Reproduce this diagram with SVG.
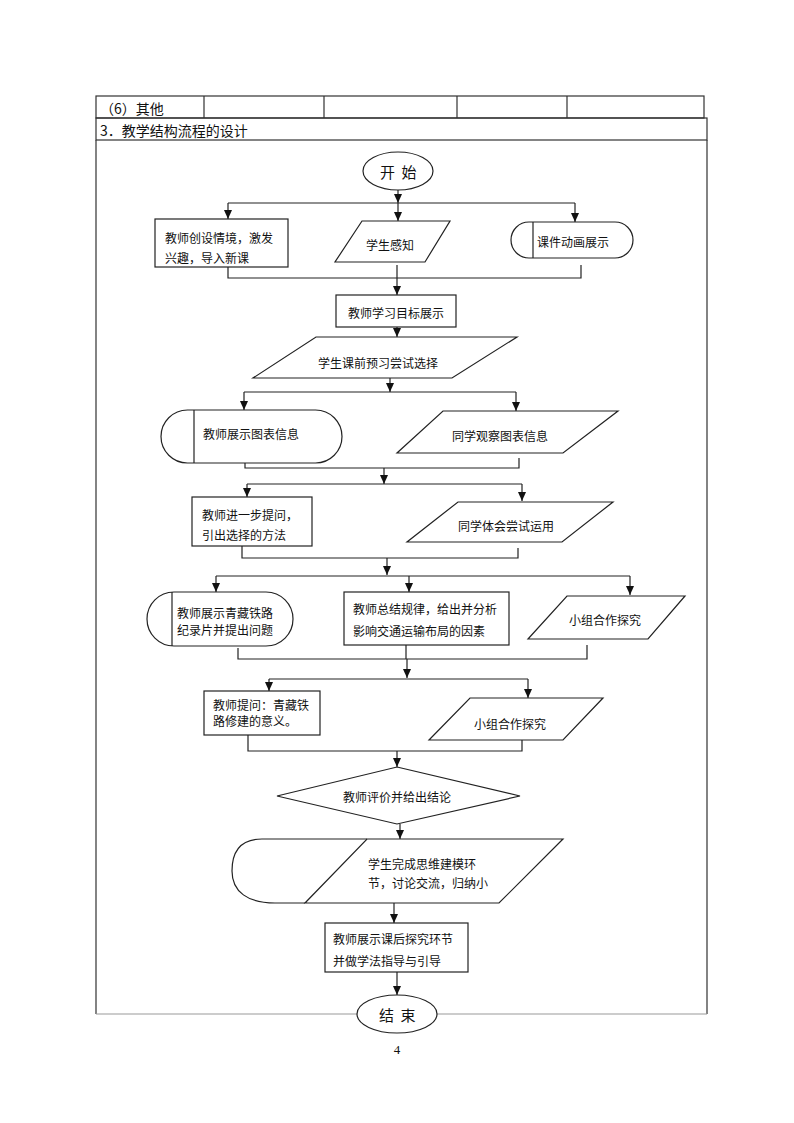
<svg xmlns="http://www.w3.org/2000/svg" width="794" height="1123" viewBox="0 0 794 1123">
<style>
.sh{fill:#fff;stroke:#222;stroke-width:1.2}
.ln{fill:none;stroke:#222;stroke-width:1.2}
.ar{fill:none;stroke:#222;stroke-width:1.2;marker-end:url(#ah)}
.tb{fill:none;stroke:#333;stroke-width:1.2}
.t{font-family:"Noto Sans CJK SC","Liberation Sans",sans-serif;font-size:12px;fill:#111;dominant-baseline:central}
.c{text-anchor:middle}
.h{font-size:14px}
.b{font-size:15px;letter-spacing:1.5px}
</style>
<defs>
<marker id="ah" markerUnits="userSpaceOnUse" markerWidth="9" markerHeight="8" refX="9" refY="4" orient="auto">
<path d="M0,0 L9,4 L0,8 z" fill="#111"/>
</marker>
</defs>
<rect width="794" height="1123" fill="#fff"/>
<g id="table">
<rect class="tb" x="96" y="96" width="608" height="22"/>
<path class="tb" d="M204,96 V118 M324,96 V118 M457,96 V118 M567,96 V118"/>
<rect class="tb" x="96" y="118" width="611" height="22"/>
<path class="tb" d="M96,140 V1014 M707,140 V1014"/>
<path d="M96,1014 H707" stroke="#999" stroke-width="1.2" fill="none"/>
<text class="t h" x="100" y="108">（6）其他</text>
<text class="t h" x="100" y="130">3．教学结构流程的设计</text>
</g>
<g id="connectors">
<path class="ar" d="M398,190 V203"/>
<path class="ln" d="M228,203 H575"/>
<path class="ar" d="M228,203 V219"/>
<path class="ar" d="M398,203 V221"/>
<path class="ar" d="M575,203 V222"/>
<path class="ln" d="M228,267 V278 H581 V265 M397,265 V278"/>
<path class="ar" d="M397,278 V295"/>
<path class="ar" d="M397,327 V337"/>
<path class="ar" d="M390,378 V392"/>
<path class="ln" d="M244,392 H516"/>
<path class="ar" d="M244,392 V410"/>
<path class="ar" d="M516,392 V411"/>
<path class="ln" d="M245,463 V468 H519 V458"/>
<path class="ar" d="M384,468 V484"/>
<path class="ln" d="M247,484 H522"/>
<path class="ar" d="M247,484 V497"/>
<path class="ar" d="M522,484 V501"/>
<path class="ln" d="M242,546 V558 H518 V548"/>
<path class="ar" d="M387,558 V575"/>
<path class="ln" d="M216,576 H630"/>
<path class="ar" d="M216,576 V592"/>
<path class="ar" d="M409,576 V592"/>
<path class="ar" d="M630,576 V595"/>
<path class="ln" d="M238,648 V659 H587 V645 M406,645 V659"/>
<path class="ar" d="M407,659 V678"/>
<path class="ln" d="M269,679 H528"/>
<path class="ar" d="M269,679 V691"/>
<path class="ar" d="M528,679 V698"/>
<path class="ln" d="M248,735 V751 H522 V740"/>
<path class="ar" d="M397,751 V767"/>
<path class="ar" d="M400,824 V839"/>
<path class="ar" d="M394,903 V923"/>
<path class="ar" d="M397,972 V995"/>
</g>
<g id="start">
<ellipse class="sh" cx="398" cy="171" rx="35" ry="19"/>
<text class="t b c" x="399" y="171">开 始</text>
</g>
<g id="n1">
<rect class="sh" x="155" y="219" width="133" height="48"/>
<text class="t" x="165" y="237">教师创设情境，激发</text>
<text class="t" x="165" y="257">兴趣，导入新课</text>
</g>
<g id="n2">
<path class="sh" d="M362,221 H450 L425,262 H335 Z"/>
<text class="t c" x="390" y="244">学生感知</text>
</g>
<g id="n3">
<rect class="sh" x="511" y="222" width="122" height="36" rx="18"/>
<path class="ln" d="M533,222 V258"/>
<text class="t" x="537" y="241">课件动画展示</text>
</g>
<g id="n4">
<rect class="sh" x="336" y="295" width="120" height="32"/>
<text class="t c" x="396" y="312">教师学习目标展示</text>
</g>
<g id="n5">
<path class="sh" d="M316,337 H517 L452,378 H253 Z"/>
<text class="t c" x="378" y="362">学生课前预习尝试选择</text>
</g>
<g id="n6">
<rect class="sh" x="161" y="410" width="181" height="53" rx="26.5"/>
<path class="ln" d="M194,410 V463"/>
<text class="t" x="203" y="433">教师展示图表信息</text>
</g>
<g id="n7">
<path class="sh" d="M443,411 H618 L563,453 H397 Z"/>
<text class="t c" x="500" y="435">同学观察图表信息</text>
</g>
<g id="n8">
<rect class="sh" x="192" y="497" width="120" height="49"/>
<text class="t" x="202" y="514">教师进一步提问，</text>
<text class="t" x="202" y="534">引出选择的方法</text>
</g>
<g id="n9">
<path class="sh" d="M458,502 H613 L562,542 H407 Z"/>
<text class="t c" x="506" y="525">同学体会尝试运用</text>
</g>
<g id="n10">
<rect class="sh" x="147" y="592" width="146" height="54" rx="27"/>
<path class="ln" d="M172,592 V646"/>
<text class="t" x="177" y="612">教师展示青藏铁路</text>
<text class="t" x="177" y="629">纪录片并提出问题</text>
</g>
<g id="n11">
<rect class="sh" x="344" y="592" width="165" height="53"/>
<text class="t" x="353" y="608">教师总结规律，给出并分析</text>
<text class="t" x="353" y="630">影响交通运输布局的因素</text>
</g>
<g id="n12">
<path class="sh" d="M567,596 H685 L648,639 H528 Z"/>
<text class="t c" x="605" y="619">小组合作探究</text>
</g>
<g id="n13">
<rect class="sh" x="204" y="691" width="116" height="44"/>
<text class="t" x="213" y="704">教师提问：青藏铁</text>
<text class="t" x="213" y="720">路修建的意义。</text>
</g>
<g id="n14">
<path class="sh" d="M470,698 H603 L563,740 H429 Z"/>
<text class="t c" x="510" y="723">小组合作探究</text>
</g>
<g id="n15">
<path class="sh" d="M397,767 L520,796 L397,824 L277,796 Z"/>
<text class="t c" x="397" y="796">教师评价并给出结论</text>
</g>
<g id="n16">
<path class="sh" d="M367,839 L262,839 C240,839 232,852 232,871 C232,892 248,903 275,903 L305,903"/>
<path class="sh" d="M367,839 H563 L499,903 H305 Z"/>
<text class="t" x="368" y="863">学生完成思维建模环</text>
<text class="t" x="368" y="882">节，讨论交流，归纳小</text>
</g>
<g id="n17">
<rect class="sh" x="325" y="923" width="143" height="49"/>
<text class="t" x="333" y="938">教师展示课后探究环节</text>
<text class="t" x="333" y="960">并做学法指导与引导</text>
</g>
<g id="end">
<ellipse class="sh" cx="397" cy="1014" rx="40" ry="19"/>
<text class="t b c" x="398" y="1014">结 束</text>
</g>
<text x="397" y="1054" font-family="Liberation Serif,serif" font-size="13" text-anchor="middle" fill="#111">4</text>
</svg>
